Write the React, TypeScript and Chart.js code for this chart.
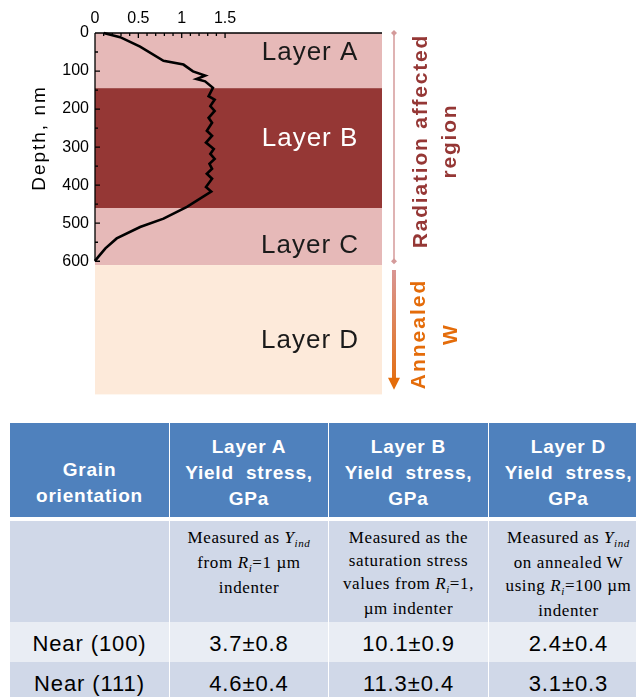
import React, { useEffect, useRef } from "react";
import { Chart, registerables } from "chart.js";

Chart.register(...registerables);

const SANS = '"Liberation Sans", Arial, sans-serif';
const SERIF = '"Liberation Serif", "Times New Roman", serif';

// Depth profile of the measured quantity (x) against depth below the surface (nm)
const profileX = [
  0.1, 0.29, 0.52, 0.79, 1.02, 1.13, 1.27, 1.17, 1.27, 1.36, 1.31, 1.38, 1.33, 1.38,
  1.31, 1.35, 1.29, 1.35, 1.28, 1.37, 1.33, 1.38, 1.32, 1.35, 1.29, 1.35, 1.28, 1.34,
  1.06, 0.79, 0.52, 0.25, 0.12, 0.04, 0.0,
];
const profileDepth = [
  0, 11, 36, 73, 83, 101, 112, 121, 127, 144, 166, 175, 192, 205,
  223, 236, 257, 270, 288, 305, 318, 331, 344, 357, 370, 383, 405, 417,
  457, 488, 510, 540, 566, 588, 599,
];

// Layers of the sample
const layerNames = ["Layer A", "Layer B", "Layer C", "Layer D"];
const layerTop = [0, 145, 460, 610];
const layerBottom = [145, 460, 610, 950];
const layerFill = ["#e6b9b8", "#953735", "#e6b9b8", "#fdeada"];
const layerTextColor = ["#1a1a1a", "#ffffff", "#1a1a1a", "#1a1a1a"];
const layerLabelDepth = [51, 279, 559, 809];
const layerLabelX = 2.48;

// Regions marked on the right of the profile
const radiationRegion = [0, 600];
const annealedRegion = [623, 938];

const xTicks = [0, 0.5, 1, 1.5];
const yTicks = [0, 100, 200, 300, 400, 500, 600];

// Table
const tableColumns = ["Grain\norientation", "Layer A\nYield stress,\nGPa", "Layer B\nYield stress,\nGPa", "Layer D\nYield stress,\nGPa"];
const orientations = ["Near (100)", "Near (111)"];
const layerAStress = ["3.7±0.8", "4.6±0.4"];
const layerBStress = ["10.1±0.9", "11.3±0.4"];
const layerDStress = ["2.4±0.4", "3.1±0.3"];

const colX = [10, 169, 328, 488, 648];
const rowY = [423, 517, 521, 622, 662, 702];

function drawRotated(ctx: CanvasRenderingContext2D, text: string, x: number, y: number) {
  ctx.save();
  ctx.translate(x, y);
  ctx.rotate(-Math.PI / 2);
  ctx.fillText(text, 0, 0);
  ctx.restore();
}

const profileDecor = {
  id: "profileDecor",
  beforeDatasetsDraw(chart: any) {
    const { ctx, chartArea: a, scales } = chart;
    const { x, y } = scales;
    ctx.save();
    layerTop.forEach((t, i) => {
      const y0 = y.getPixelForValue(t);
      const y1 = y.getPixelForValue(layerBottom[i]);
      ctx.fillStyle = layerFill[i];
      ctx.fillRect(a.left, y0, a.right - a.left, y1 - y0);
    });
    ctx.font = `26px ${SANS}`;
    (ctx as any).letterSpacing = "1px";
    ctx.textAlign = "center";
    ctx.textBaseline = "middle";
    layerNames.forEach((n, i) => {
      ctx.fillStyle = layerTextColor[i];
      ctx.fillText(n, x.getPixelForValue(layerLabelX), y.getPixelForValue(layerLabelDepth[i]));
    });
    ctx.restore();
  },
  afterDatasetsDraw(chart: any) {
    const { ctx, chartArea: a, scales } = chart;
    const { x, y } = scales;
    ctx.save();
    ctx.strokeStyle = "#000";
    ctx.lineWidth = 1.3;
    ctx.beginPath();
    ctx.moveTo(a.left, a.top);
    ctx.lineTo(a.right, a.top);
    const yEnd = y.getPixelForValue(yTicks[yTicks.length - 1]);
    ctx.moveTo(a.left, a.top);
    ctx.lineTo(a.left, yEnd);
    // depth ticks every 50 nm, longer at the labelled ones
    for (let i = 0; i <= 12; i++) {
      const py = y.getPixelForValue(i * 50);
      ctx.moveTo(a.left, py);
      ctx.lineTo(a.left + (i % 2 === 0 ? 5 : 3), py);
    }
    // x ticks every 0.1, longer at the labelled ones
    for (let i = 0; i <= 15; i++) {
      const px = x.getPixelForValue(i / 10);
      ctx.moveTo(px, a.top);
      ctx.lineTo(px, a.top + (i % 5 === 0 ? 5 : 3));
    }
    ctx.stroke();

    // axis title
    ctx.fillStyle = "#000";
    ctx.font = `19px ${SANS}`;
    (ctx as any).letterSpacing = "2px";
    ctx.textAlign = "center";
    ctx.textBaseline = "alphabetic";
    drawRotated(ctx, "Depth, nm", 45, 138);

    // radiation affected bracket
    const bx = a.right + 12;
    const r0 = y.getPixelForValue(radiationRegion[0]);
    const r1 = y.getPixelForValue(radiationRegion[1]);
    ctx.strokeStyle = "#d49a9a";
    ctx.lineWidth = 1.5;
    ctx.beginPath();
    ctx.moveTo(bx, r0);
    ctx.lineTo(bx, r1);
    ctx.stroke();
    ctx.fillStyle = "#d49a9a";
    [r0, r1].forEach((py) => {
      ctx.beginPath();
      ctx.moveTo(bx, py - 3);
      ctx.lineTo(bx + 3, py);
      ctx.lineTo(bx, py + 3);
      ctx.lineTo(bx - 3, py);
      ctx.closePath();
      ctx.fill();
    });

    // annealed arrow
    const a0 = y.getPixelForValue(annealedRegion[0]);
    const a1 = y.getPixelForValue(annealedRegion[1]);
    const grad = ctx.createLinearGradient(0, a0, 0, a1);
    grad.addColorStop(0, "#d99694");
    grad.addColorStop(1, "#e46c0a");
    ctx.fillStyle = grad;
    ctx.fillRect(bx - 2, a0, 4, a1 - a0 - 10);
    ctx.fillStyle = "#e46c0a";
    ctx.beginPath();
    ctx.moveTo(bx - 6, a1 - 12);
    ctx.lineTo(bx + 6, a1 - 12);
    ctx.lineTo(bx, a1);
    ctx.closePath();
    ctx.fill();

    ctx.font = `bold 21px ${SANS}`;
    (ctx as any).letterSpacing = "1.8px";
    ctx.fillStyle = "#953735";
    drawRotated(ctx, "Radiation affected", a.right + 45, 141);
    drawRotated(ctx, "region", a.right + 74, 141);
    ctx.fillStyle = "#e46c0a";
    (ctx as any).letterSpacing = "2px";
    drawRotated(ctx, "Annealed", a.right + 43, 334);
    drawRotated(ctx, "W", a.right + 75, 334);
    ctx.restore();
  },
};

function ProfileChart() {
  const ref = useRef<HTMLCanvasElement>(null);
  useEffect(() => {
    const canvas = ref.current;
    if (!canvas) return;
    const points = profileX.map((v, i) => ({ x: v, y: profileDepth[i] }));
    const chart = new Chart(canvas, {
      type: "scatter",
      data: {
        datasets: [
          {
            data: points,
            showLine: true,
            borderColor: "#000",
            borderWidth: 2.6,
            pointRadius: 0,
            tension: 0,
            clip: false as any,
          },
        ],
      },
      options: {
        responsive: false,
        animation: false,
        events: [],
        layout: { padding: { left: 0, top: 0, right: 254, bottom: 13 } },
        plugins: { legend: { display: false }, tooltip: { enabled: false } },
        scales: {
          x: {
            type: "linear",
            position: "top",
            min: 0,
            max: 3.31,
            grid: { display: false, drawTicks: false },
            border: { display: false },
            ticks: {
              color: "#000",
              font: { family: SANS, size: 16 },
              padding: 5,
              maxRotation: 0,
              autoSkip: false,
              callback: (v: any) => String(v),
            },
            afterBuildTicks: (s: any) => {
              s.ticks = xTicks.map((v) => ({ value: v }));
            },
            afterFit: (s: any) => {
              s.height = 33;
            },
          },
          y: {
            type: "linear",
            reverse: true,
            min: 0,
            max: 950,
            grid: { display: false, drawTicks: false },
            border: { display: false },
            ticks: {
              color: "#000",
              font: { family: SANS, size: 16 },
              padding: 6,
              autoSkip: false,
              callback: (v: any) => String(v),
            },
            afterBuildTicks: (s: any) => {
              s.ticks = yTicks.map((v) => ({ value: v }));
            },
            afterFit: (s: any) => {
              s.width = 95;
            },
          },
        },
      },
      plugins: [profileDecor],
    });
    return () => chart.destroy();
  }, []);
  return (
    <canvas
      ref={ref}
      width={636}
      height={410}
      style={{ position: "absolute", left: 0, top: 0, width: 636, height: 410 }}
    />
  );
}

const sub = (t: string) => (
  <span style={{ fontSize: 11, fontStyle: "italic", position: "relative", top: 4 }}>{t}</span>
);

const descriptions: React.ReactNode[] = [
  null,
  <>
    Measured as <i>Y</i>
    {sub("ind")}
    <br />
    from <i>R</i>
    {sub("i")}=1 µm
    <br />
    indenter
  </>,
  <>
    Measured as the
    <br />
    saturation stress
    <br />
    values from <i>R</i>
    {sub("i")}=1,
    <br />
    µm indenter
  </>,
  <>
    Measured as <i>Y</i>
    {sub("ind")}
    <br />
    on annealed W
    <br />
    using <i>R</i>
    {sub("i")}=100 µm
    <br />
    indenter
  </>,
];

function StressTable() {
  const cells: React.ReactNode[] = [];
  const rowsData = [orientations, layerAStress, layerBStress, layerDStress];
  for (let c = 0; c < 4; c++) {
    const left = colX[c] + (c === 0 ? 0 : 1);
    const width = colX[c + 1] - colX[c] - (c === 0 ? 0 : 1);
    const lines = tableColumns[c].split("\n");
    cells.push(
      <div
        key={`h${c}`}
        style={{
          position: "absolute",
          left,
          top: rowY[0],
          width,
          height: rowY[1] - rowY[0],
          background: "#4f81bd",
          color: "#fff",
          fontFamily: SANS,
          fontWeight: "bold",
          fontSize: 19,
          letterSpacing: 0.8,
          lineHeight: "26px",
          textAlign: "center",
          boxSizing: "border-box",
          paddingTop: c === 0 ? 34 : 11,
          whiteSpace: "pre",
        }}
      >
        {lines.map((l, i) => (
          <div key={i}>{l.replace("Yield stress", "Yield  stress")}</div>
        ))}
      </div>
    );
    cells.push(
      <div
        key={`d${c}`}
        style={{
          position: "absolute",
          left,
          top: rowY[2],
          width,
          height: rowY[3] - rowY[2],
          background: "#d0d8e8",
          color: "#000",
          fontFamily: SERIF,
          fontSize: 17,
          letterSpacing: 0.6,
          lineHeight: "23px",
          textAlign: "center",
          boxSizing: "border-box",
          paddingTop: 5,
          whiteSpace: "nowrap",
        }}
      >
        {descriptions[c]}
      </div>
    );
    for (let r = 0; r < 2; r++) {
      cells.push(
        <div
          key={`r${r}c${c}`}
          style={{
            position: "absolute",
            left,
            top: rowY[3 + r],
            width,
            height: rowY[4 + r] - rowY[3 + r],
            background: r === 0 ? "#e9edf4" : "#d0d8e8",
            color: "#000",
            fontFamily: SANS,
            fontSize: 22,
            letterSpacing: 0.9,
            lineHeight: "40px",
            textAlign: "center",
            boxSizing: "border-box",
            paddingTop: 2,
            whiteSpace: "nowrap",
          }}
        >
          {rowsData[c][r]}
        </div>
      );
    }
  }
  return <>{cells}</>;
}

export default function App() {
  return (
    <div
      style={{
        position: "fixed",
        left: 0,
        top: 0,
        width: 636,
        height: 697,
        overflow: "hidden",
        background: "#fff",
      }}
    >
      <ProfileChart />
      <StressTable />
    </div>
  );
}
